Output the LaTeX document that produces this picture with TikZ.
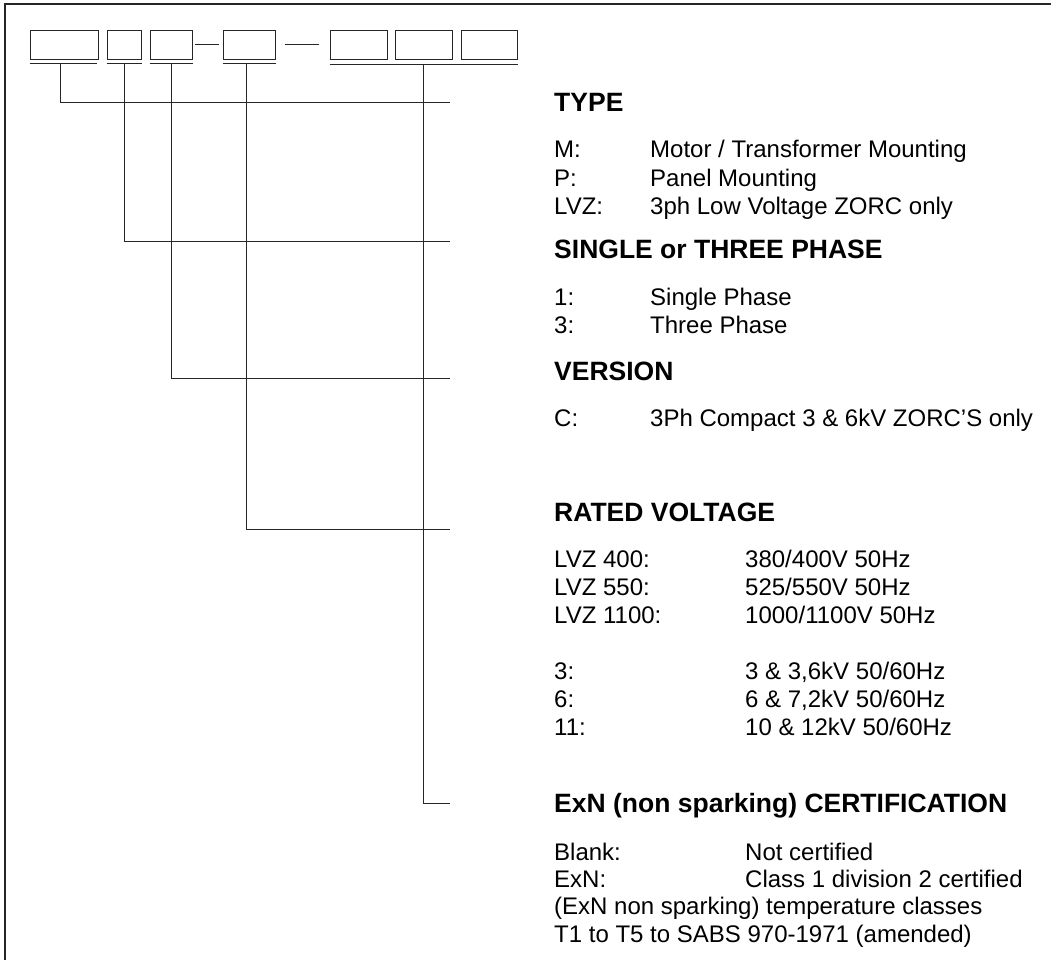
\documentclass[tikz,border=0pt]{standalone}
\usepackage{fontspec}
\setmainfont{Liberation Sans}
\begin{document}
\begin{tikzpicture}[x=1pt, y=-1pt,
  codebox/.style = {draw=black!85, line width=1pt, minimum height=29pt, inner sep=0pt},
  codeline/.style = {line width=1pt, black!85},
  frameline/.style = {line width=1.6pt, black!85},
  headtxt/.style = {anchor=base west, inner sep=0pt, font=\fontsize{26.5}{30}\selectfont\bfseries},
  bodytxt/.style = {anchor=base west, inner sep=0pt, font=\fontsize{24}{28}\selectfont}
]
  \useasboundingbox (0,0) rectangle (1051,960);
  % frame, open to the right and bottom
  \draw[frameline] (5,960) -- (5,4) -- (1051,4);
  % code boxes
  \node[codebox, minimum width=68pt] (b1) at (64,45) {};
  \node[codebox, minimum width=34pt] (b2) at (124,45) {};
  \node[codebox, minimum width=42pt] (b3) at (171,45) {};
  \node[codebox, minimum width=52pt] (b4) at (249,45) {};
  \node[codebox, minimum width=57pt] (b5) at (358.5,45) {};
  \node[codebox, minimum width=57pt] (b6) at (423.5,45) {};
  \node[codebox, minimum width=56pt] (b7) at (489,45) {};
  % dashes
  \draw[codeline] ([xshift=2pt]b3.east) -- ([xshift=-4pt]b4.west);
  \draw[codeline] ([xshift=9pt]b4.east) -- ([xshift=-11pt]b5.west);
  % underlines
  \draw[codeline] ([yshift=-4pt]b1.south west) -- ([xshift=-2pt,yshift=-4pt]b1.south east);
  \foreach \b in {b2,b3,b4}
    \draw[codeline] ([yshift=-4pt]\b.south west) -- ([yshift=-4pt]\b.south east);
  \draw[codeline] ([yshift=-5pt]b5.south west) -- ([yshift=-5pt]b7.south east);
  % headings
  \node[headtxt] (hType) at (554,112) {TYPE};
  \node[headtxt] (hPhase) at (554,258) {SINGLE or THREE PHASE};
  \node[headtxt] (hVer) at (554,380) {VERSION};
  \node[headtxt] (hVolt) at (554,521) {RATED VOLTAGE};
  \node[headtxt] (hExn) at (554,812) {ExN (non sparking) CERTIFICATION};
  % line ends
  \coordinate (e1) at (450,103);
  \coordinate (e2) at (450,241);
  \coordinate (e3) at (450,378);
  \coordinate (e4) at (450,529);
  \coordinate (e5) at (450,803);
  % leaders
  \draw[codeline] ([xshift=-4pt,yshift=-4pt]b1.south) |- (e1);
  \draw[codeline] ([yshift=-4pt]b2.south) |- (e2);
  \draw[codeline] ([yshift=-4pt]b3.south) |- (e3);
  \draw[codeline] ([xshift=-3pt,yshift=-4pt]b4.south) |- (e4);
  \draw[codeline] ([yshift=-5pt]b6.south) |- (e5);
  % entries, key column and value column
  \foreach \y/\k/\v in {158/{M:}/{Motor / Transformer Mounting},
      186/{P:}/{Panel Mounting}, 214/{LVZ:}/{3ph Low Voltage ZORC only},
      305/{1:}/{Single Phase}, 333/{3:}/{Three Phase},
      426/{C:}/{3Ph Compact 3 \& 6kV ZORC’S only}} {
    \node[bodytxt] at (554,\y) {\k};
    \node[bodytxt] at (650,\y) {\v};
  }
  \foreach \y/\k/\v in {567/{LVZ 400:}/{380/400V 50Hz},
      595/{LVZ 550:}/{525/550V 50Hz}, 623/{LVZ 1100:}/{1000/1100V 50Hz},
      679/{3:}/{3 \& 3,6kV 50/60Hz}, 707/{6:}/{6 \& 7,2kV 50/60Hz},
      735/{11:}/{10 \& 12kV 50/60Hz},
      860/{Blank:}/{Not certified}, 887/{ExN:}/{Class 1 division 2 certified}} {
    \node[bodytxt] at (554,\y) {\k};
    \node[bodytxt] at (745,\y) {\v};
  }
  \node[bodytxt] (nTemp) at (554,914) {(ExN non sparking) temperature classes};
  \node[bodytxt] (nSabs) at (554,942) {T1 to T5 to SABS 970-1971 (amended)};
\end{tikzpicture}
\end{document}
